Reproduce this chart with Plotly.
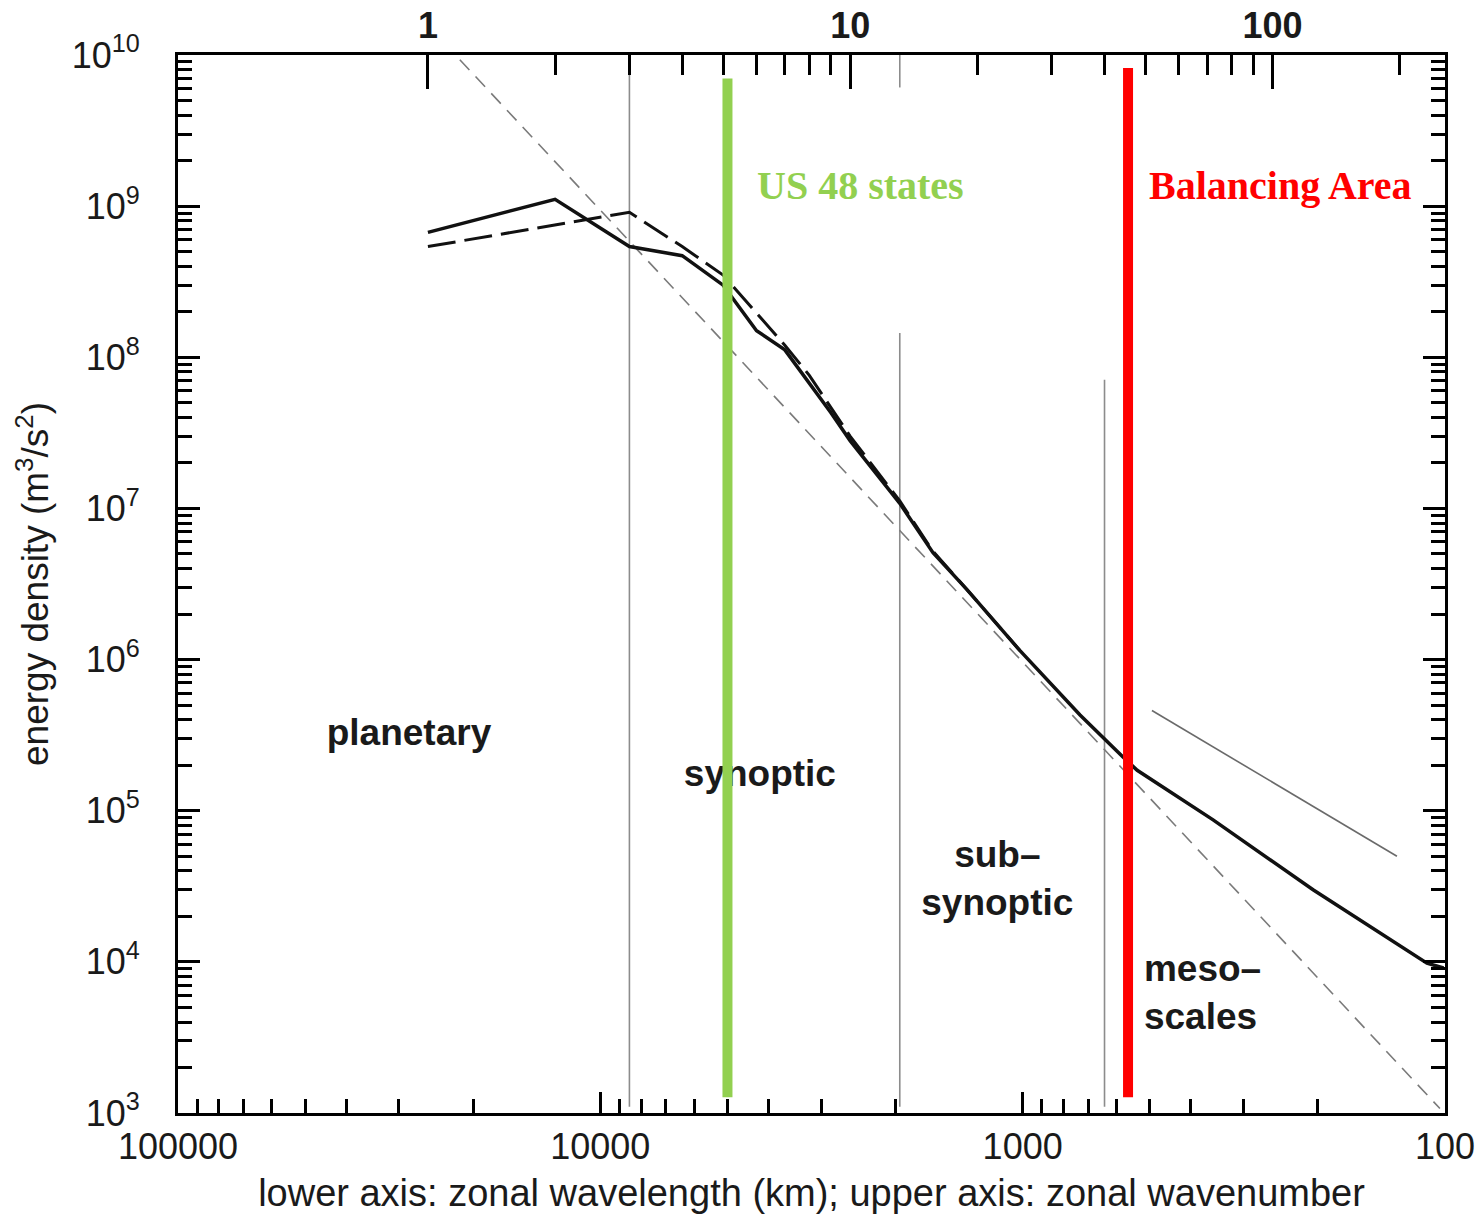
import math
import plotly.graph_objects as go

# ---------------- data ----------------
# conversion constant between zonal wavenumber and zonal wavelength (km)
CIRCUMFERENCE_KM = 25600.0

# solid spectrum: zonal wavenumber vs energy density (m^3/s^2)
solid_wavenumber = [1, 2, 3, 4, 5, 6, 7, 8, 9, 10, 13.1, 15.7, 18.9, 25.2,
                    31.9, 35.0, 44.3, 47.8, 72.3, 124.7, 232, 254]
solid_energy = [6.7e8, 1.11e9, 5.4e8, 4.7e8, 3.0e8, 1.5e8, 1.12e8, 6.8e7,
                4.3e7, 2.8e7, 1.08e7, 5.1e6, 2.9e6, 1.15e6, 5.6e5, 4.3e5,
                2.26e5, 1.85e5, 8.7e4, 3.0e4, 9.8e3, 9.1e3]

# dashed spectrum
dashed_wavenumber = [1, 2, 3, 4, 5, 6, 7, 8, 9, 10, 13.1, 15.7, 18.9, 25.2]
dashed_energy = [5.4e8, 7.5e8, 9.1e8, 5.4e8, 3.5e8, 1.96e8, 1.2e8, 7.6e7,
                 4.7e7, 3.0e7, 1.12e7, 5.2e6, 2.9e6, 1.15e6]

# k^-3 reference line (thin grey dashed)
k3_wavenumber = [1.19, 249]
k3_energy = [9.3e9, 1.07e3]

# k^-5/3 reference line (thin grey solid)
k53_wavenumber = [51.8, 197]
k53_energy = [4.6e5, 5.0e4]

# scale-regime dividers (wavenumber, energy extent of each segment)
divider_wavenumber = [3, 13.1, 13.1, 40]
divider_energy_top = [1e10, 1e10, 1.45e8, 7.1e7]
divider_energy_bottom = [1.1e3, 6.1e9, 1.1e3, 1.1e3]

# highlighted scales (zonal wavelength, km)
scale_names = ["US 48 states", "Balancing Area"]
scale_wavelength_km = [5000, 563]
scale_energy_top = [7.0e9, 8.2e9]
scale_energy_bottom = [1.27e3, 1.27e3]
scale_colors = ["#92D050", "#FF0000"]

# regime labels
regime_labels = ["<b>planetary</b>", "<b>synoptic</b>", "<b>sub\u2013<br>synoptic</b>",
                 "<b>meso\u2013<br>scales</b>"]
regime_wavenumber = [0.902, 6.11, 22.3, 49.6]
regime_energy = [3.11e5, 1.69e5, 3.41e4, 6.0e3]
regime_textpos = ["middle center", "middle center", "middle center", "middle right"]

# axis ticks
wavelength_ticks = [100000, 10000, 1000, 100]
wavelength_ticktext = ["100000", "10000", "1000", "100"]
wavenumber_ticks = [1, 10, 100]
wavenumber_ticktext = ["1", "10", "100"]
energy_ticks = [10 ** p for p in range(3, 11)]
energy_ticktext = ["10<sup>%d</sup>" % p for p in range(3, 11)]

# ---------------- figure ----------------
SANS = "Liberation Sans, Arial, Helvetica, sans-serif"
SERIF = "Liberation Serif, Times New Roman, serif"
TXT = "#1a1a1a"

fig = go.Figure()

# empty trace so that the lower (wavelength) axis is drawn
fig.add_trace(go.Scatter(x=[], y=[], xaxis="x", yaxis="y", mode="lines",
                         hoverinfo="skip"))

# dividers
for k, top, bot in zip(divider_wavenumber, divider_energy_top, divider_energy_bottom):
    fig.add_trace(go.Scatter(x=[k, k], y=[top, bot], xaxis="x2", yaxis="y",
                             mode="lines", line=dict(color="#8c8c8c", width=1.6),
                             hoverinfo="skip"))

# reference slopes
fig.add_trace(go.Scatter(x=k3_wavenumber, y=k3_energy, xaxis="x2", yaxis="y",
                         mode="lines", line=dict(color="#7a7a7a", width=1.6, dash="14px,9px"),
                         hoverinfo="skip"))
fig.add_trace(go.Scatter(x=k53_wavenumber, y=k53_energy, xaxis="x2", yaxis="y",
                         mode="lines", line=dict(color="#6a6a6a", width=1.6),
                         hoverinfo="skip"))

# spectra
fig.add_trace(go.Scatter(x=dashed_wavenumber, y=dashed_energy, xaxis="x2", yaxis="y",
                         mode="lines", line=dict(color="#111111", width=3, dash="28px,9px"),
                         hoverinfo="skip"))
fig.add_trace(go.Scatter(x=solid_wavenumber, y=solid_energy, xaxis="x2", yaxis="y",
                         mode="lines", line=dict(color="#111111", width=3.5),
                         hoverinfo="skip"))

# regime labels
fig.add_trace(go.Scatter(x=regime_wavenumber, y=regime_energy, xaxis="x2", yaxis="y",
                         mode="text", text=regime_labels, textposition=regime_textpos,
                         textfont=dict(family=SANS, size=37, color=TXT),
                         hoverinfo="skip"))

# highlighted scale lines
for km, top, bot, col in zip(scale_wavelength_km, scale_energy_top, scale_energy_bottom, scale_colors):
    k = CIRCUMFERENCE_KM / km
    fig.add_trace(go.Scatter(x=[k, k], y=[top, bot], xaxis="x2", yaxis="y",
                             mode="lines", line=dict(color=col, width=10),
                             hoverinfo="skip"))

# scale names
name_x = [0.4554, 0.7648]
for name, col, xp in zip(scale_names, scale_colors, name_x):
    fig.add_annotation(x=xp, y=0.877, xref="paper", yref="paper", text="<b>%s</b>" % name,
                       showarrow=False, xanchor="left", yanchor="middle",
                       font=dict(family=SERIF, size=40, color=col))

minor_len = [m * 10 ** d for d in (2, 3, 4) for m in range(2, 10)]
minor_k = [m * 10 ** d for d in (0, 1) for m in range(2, 10)] + [200]
minor_e = [m * 10 ** d for d in range(3, 10) for m in range(2, 10)]

axis_common = dict(showline=True, linecolor="black", linewidth=3, showgrid=False,
                   zeroline=False, ticks="inside", tickcolor="black", tickwidth=3)

fig.update_layout(
    width=1483, height=1217,
    margin=dict(l=178, r=38, t=55, b=104, autoexpand=False),
    paper_bgcolor="white", plot_bgcolor="white",
    showlegend=False,
    xaxis=dict(type="log", range=[5, 2], tickmode="array",
               tickvals=wavelength_ticks, ticktext=wavelength_ticktext,
               ticklen=21, mirror=False, automargin=False,
               tickfont=dict(family=SANS, size=36, color=TXT),
               ticklabelstandoff=0,
               minor=dict(tickvals=minor_len, ticks="inside", ticklen=14,
                          tickwidth=3, tickcolor="black"),
               title=dict(text="lower axis: zonal wavelength (km); upper axis: zonal wavenumber",
                          font=dict(family=SANS, size=38, color=TXT), standoff=14),
               **axis_common),
    xaxis2=dict(type="log", overlaying="x", side="top", anchor="y",
                range=[math.log10(CIRCUMFERENCE_KM / 1e5), math.log10(CIRCUMFERENCE_KM / 1e2)],
                tickmode="array", tickvals=wavenumber_ticks, ticktext=wavenumber_ticktext,
                ticklen=34, automargin=False,
                tickfont=dict(family=SANS, size=36, color=TXT, weight="bold"),
                minor=dict(tickvals=minor_k, ticks="inside", ticklen=20,
                           tickwidth=3, tickcolor="black"),
                **axis_common),
    yaxis=dict(type="log", range=[3, 10], tickmode="array",
               tickvals=energy_ticks, ticktext=energy_ticktext,
               ticklen=22, mirror="ticks", automargin=False,
               tickfont=dict(family=SANS, size=36, color=TXT),
               ticklabelstandoff=28,
               minor=dict(tickvals=minor_e, ticks="inside", ticklen=14,
                          tickwidth=3, tickcolor="black"),
               title=dict(text="energy density (m<sup>3</sup>/s<sup>2</sup>)",
                          font=dict(family=SANS, size=37, color=TXT), standoff=12),
               **axis_common),
)

fig.write_html("out.html")
